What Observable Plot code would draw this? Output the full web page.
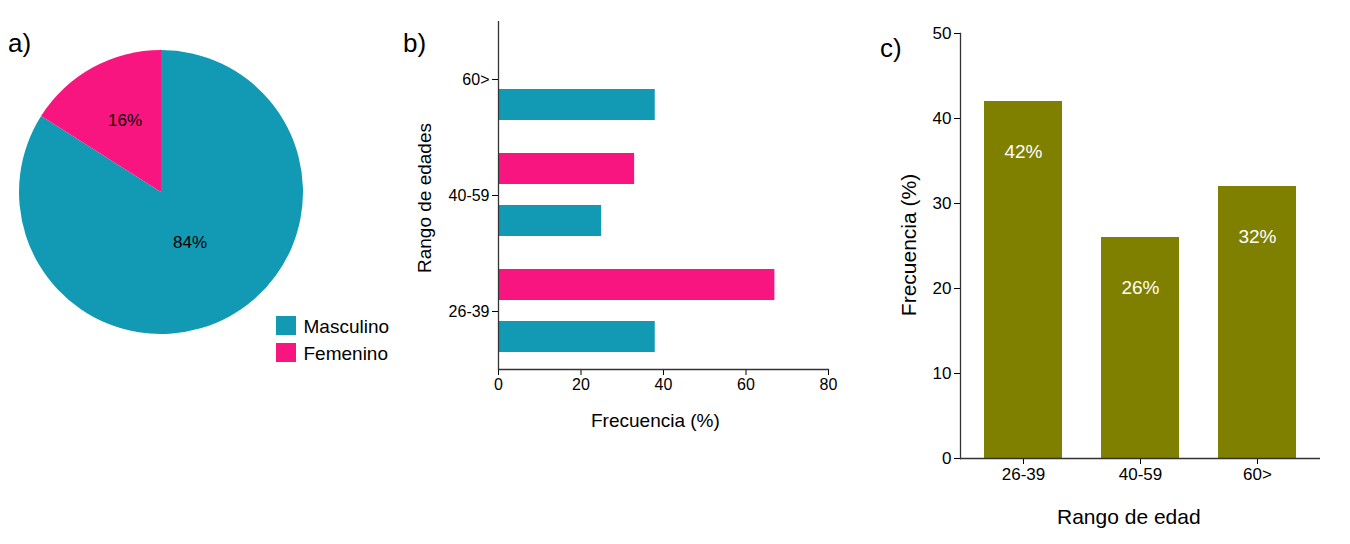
<!DOCTYPE html>
<html><head><meta charset="utf-8">
<script src="https://cdn.jsdelivr.net/npm/d3@7"></script>
<script src="https://cdn.jsdelivr.net/npm/@observablehq/plot@0.6"></script>
<style>
body{margin:0;background:#fff;font-family:"Liberation Sans",Arial,sans-serif;}
#wrap{position:relative;width:1350px;height:544px;overflow:hidden;}
.p{position:absolute;top:0;}
.t{position:absolute;color:#000;white-space:nowrap;}
</style></head><body>
<div id="wrap">
  <div class="p" id="pa" style="left:0"></div>
  <div class="p" id="pb" style="left:400px"></div>
  <div class="p" id="pc" style="left:860px"></div>
  <div class="t" style="left:8px;top:28px;font-size:26px">a)</div>
  <div class="t" style="left:403px;top:28px;font-size:26px">b)</div>
  <div class="t" style="left:880px;top:33px;font-size:26px">c)</div>
  <div class="t" style="left:591px;top:410px;font-size:19px">Frecuencia (%)</div>
  <div class="t" style="left:425px;top:198px;font-size:19px;transform:translate(-50%,-50%) rotate(-90deg)">Rango de edades</div>
  <div class="t" style="left:909px;top:245px;font-size:21px;transform:translate(-50%,-50%) rotate(-90deg)">Frecuencia (%)</div>
  <div class="t" style="left:1057px;top:505px;font-size:21px">Rango de edad</div>
</div>
<script>
const sexes = ["Masculino","Femenino"];
const sexShare = [84, 16];
const ageGroups = ["60>","40-59","26-39"];
const mascByAge = [38, 25, 38];
const femByAge = [null, 33, 67];
const ageOrder = ["26-39","40-59","60>"];
const ageFreq = [42, 26, 32];
const colors = ["#129ab5","#f8157f"];
const olive = "#808000";
const font = '"Liberation Sans",Arial,sans-serif';

// a) pie + legend
const pieData = sexes.map((s,i)=>({sex:s, v:sexShare[i]}));
const arcs = d3.pie().sort(null).value(d=>d.v)(pieData);
const pa = Plot.plot({
  width:420, height:544, margin:0,
  x:{domain:[0,420], range:[0,420], axis:null}, y:{domain:[0,544], range:[0,544], axis:null},
  style:{fontFamily:font},
  marks:[
    (index, scales) => {
      const g = d3.create("svg:g").attr("transform",`translate(${scales.x(161)},${scales.y(192)})`);
      const arc = d3.arc().innerRadius(0).outerRadius(142);
      g.selectAll("path").data(arcs).join("path").attr("d",arc).attr("fill",(d,i)=>colors[i]);
      g.selectAll("text").data(arcs).join("text")
        .attr("transform",(d,i)=>`translate(${i===0?[29,50]:[-36,-72]})`)
        .attr("text-anchor","middle").attr("dy","0.35em").attr("font-size",17)
        .text(d=>d.data.v+"%");
      return g.node();
    },
    Plot.rect(sexes,{x1:()=>276,x2:()=>296,y1:(d,i)=>316+i*27,y2:(d,i)=>335+i*27,fill:(d,i)=>colors[i]}),
    Plot.text(sexes,{x:()=>303,y:(d,i)=>326+i*27,text:d=>d,textAnchor:"start",fontSize:19})
  ]
});
document.getElementById("pa").append(pa);

// b) bars
const bData = [];
ageGroups.forEach((a,i)=>{
  if(femByAge[i]!=null) bData.push({age:a, sex:"Femenino", v:femByAge[i]});
  bData.push({age:a, sex:"Masculino", v:mascByAge[i]});
});
const pb = Plot.plot({
  width:450, height:544, marginLeft:98, marginRight:22, marginTop:20, marginBottom:175,
  style:{fontFamily:font,fontSize:"16px",color:"#000"},
  fy:{domain:ageGroups, padding:0, label:null, tickSize:6, axis:"left"},
  y:{domain:["Femenino","Masculino"], axis:null, paddingInner:0.4, paddingOuter:0.3},
  x:{domain:[0,80], ticks:[0,20,40,60,80], tickSize:6, label:null},
  color:{domain:sexes, range:colors},
  marks:[
    Plot.barX(bData,{fy:"age", y:"sex", x:"v", fill:"sex"}),
    Plot.ruleX([0],{stroke:"#333", strokeWidth:1.3}),
    Plot.frame({anchor:"bottom", facetAnchor:"bottom", stroke:"#333", strokeWidth:1.3})
  ]
});
document.getElementById("pb").append(pb);

// c) bars
const cData = ageOrder.map((a,i)=>({age:a, v:ageFreq[i]}));
const pc = Plot.plot({
  width:480, height:544, marginLeft:100, marginRight:20, marginTop:33, marginBottom:86,
  style:{fontFamily:font,fontSize:"17px",color:"#000"},
  x:{domain:ageOrder, paddingInner:0.33, paddingOuter:0.2, tickSize:6, label:null},
  y:{domain:[0,50], ticks:[0,10,20,30,40,50], tickSize:6, label:null},
  marks:[
    Plot.barY(cData,{x:"age", y:"v", fill:olive}),
    Plot.text(cData,{x:"age", y:"v", text:d=>d.v+"%", dy:50, fill:"#fff", fontSize:19}),
    Plot.ruleY([0],{stroke:"#333", strokeWidth:1.3}),
    Plot.frame({anchor:"left", stroke:"#333", strokeWidth:1.3})
  ]
});
document.getElementById("pc").append(pc);
</script>
</body></html>
